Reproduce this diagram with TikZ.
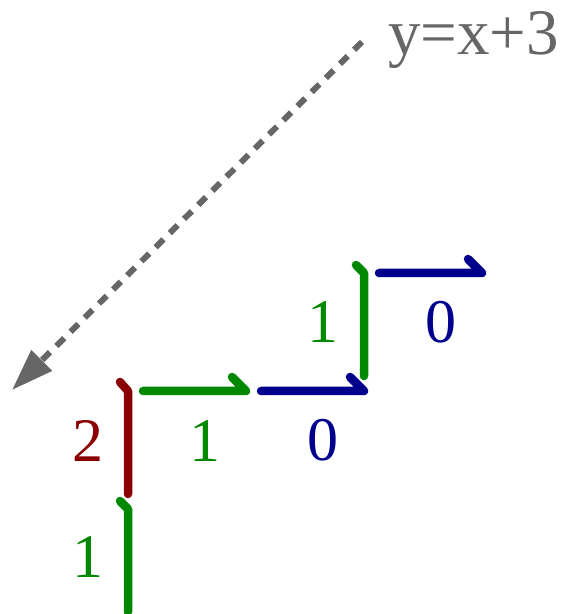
\documentclass[tikz,border=0pt]{standalone}
\usepackage{fontspec}
\setmainfont{Liberation Serif}
\usetikzlibrary{arrows.meta}
\definecolor{stepgreen}{RGB}{0,136,0}
\definecolor{stepblue}{RGB}{0,0,140}
\definecolor{stepred}{RGB}{139,0,0}
\definecolor{guidegray}{RGB}{102,102,102}

\begin{document}
\begin{tikzpicture}[
  x=1pt, y=1pt,
  every node/.style={inner sep=0pt},
  % a step of the path: thick stroke, a little gap at its start and a bent end
  upstep/.style={draw, line width=8.5pt, line cap=round, line join=round, shorten <=15pt},
  rightstep/.style={draw, line width=8.5pt, line cap=round, line join=round, shorten <=15pt},
  lbl/.style={anchor=base, font=\fontsize{62}{62}\selectfont},
  guide/.style={draw=guidegray, line width=6pt, dash pattern=on 11pt off 9pt,
    -{Triangle[length=42pt, width=28pt]}}]
  \useasboundingbox (0,0) rectangle (563,614);

  % lattice points of the path
  \coordinate (p0) at (128,-13);
  \coordinate (p1) at (128,105);
  \coordinate (p2) at (128,223);
  \coordinate (p3) at (246,223);
  \coordinate (p4) at (364,223);
  \coordinate (p5) at (364,341);
  \coordinate (p6) at (482,341);

  % steps
  \draw[upstep, stepgreen]   (p0) -- (p1) -- ++(-8,8);
  \draw[upstep, stepred]     (p1) -- (p2) -- ++(-8,9);
  \draw[rightstep, stepgreen] (p2) -- (p3) -- ++(-14,14);
  \draw[rightstep, stepblue]  (p3) -- (p4) -- ++(-14,14);
  \draw[upstep, stepgreen]   (p4) -- (p5) -- ++(-8,8);
  \draw[rightstep, stepblue]  (p5) -- (p6) -- ++(-14,14);

  % step labels
  \node[lbl, text=stepgreen] (l0) at (88,36)   {1};
  \node[lbl, text=stepred]   (l1) at (88,152)  {2};
  \node[lbl, text=stepgreen] (l2) at (205,152) {1};
  \node[lbl, text=stepblue]  (l3) at (323,153) {0};
  \node[lbl, text=stepgreen] (l4) at (323,271) {1};
  \node[lbl, text=stepblue]  (l5) at (441,271) {0};

  % the diagonal
  \node[anchor=base west, text=guidegray, font=\fontsize{65}{65}\selectfont]
    (eq) at (388,559) {y=x+3};
  \coordinate (gfrom) at (362,572);
  \coordinate (gto)   at (12,224);
  \draw[guide] (gfrom) -- (gto);
\end{tikzpicture}
\end{document}
